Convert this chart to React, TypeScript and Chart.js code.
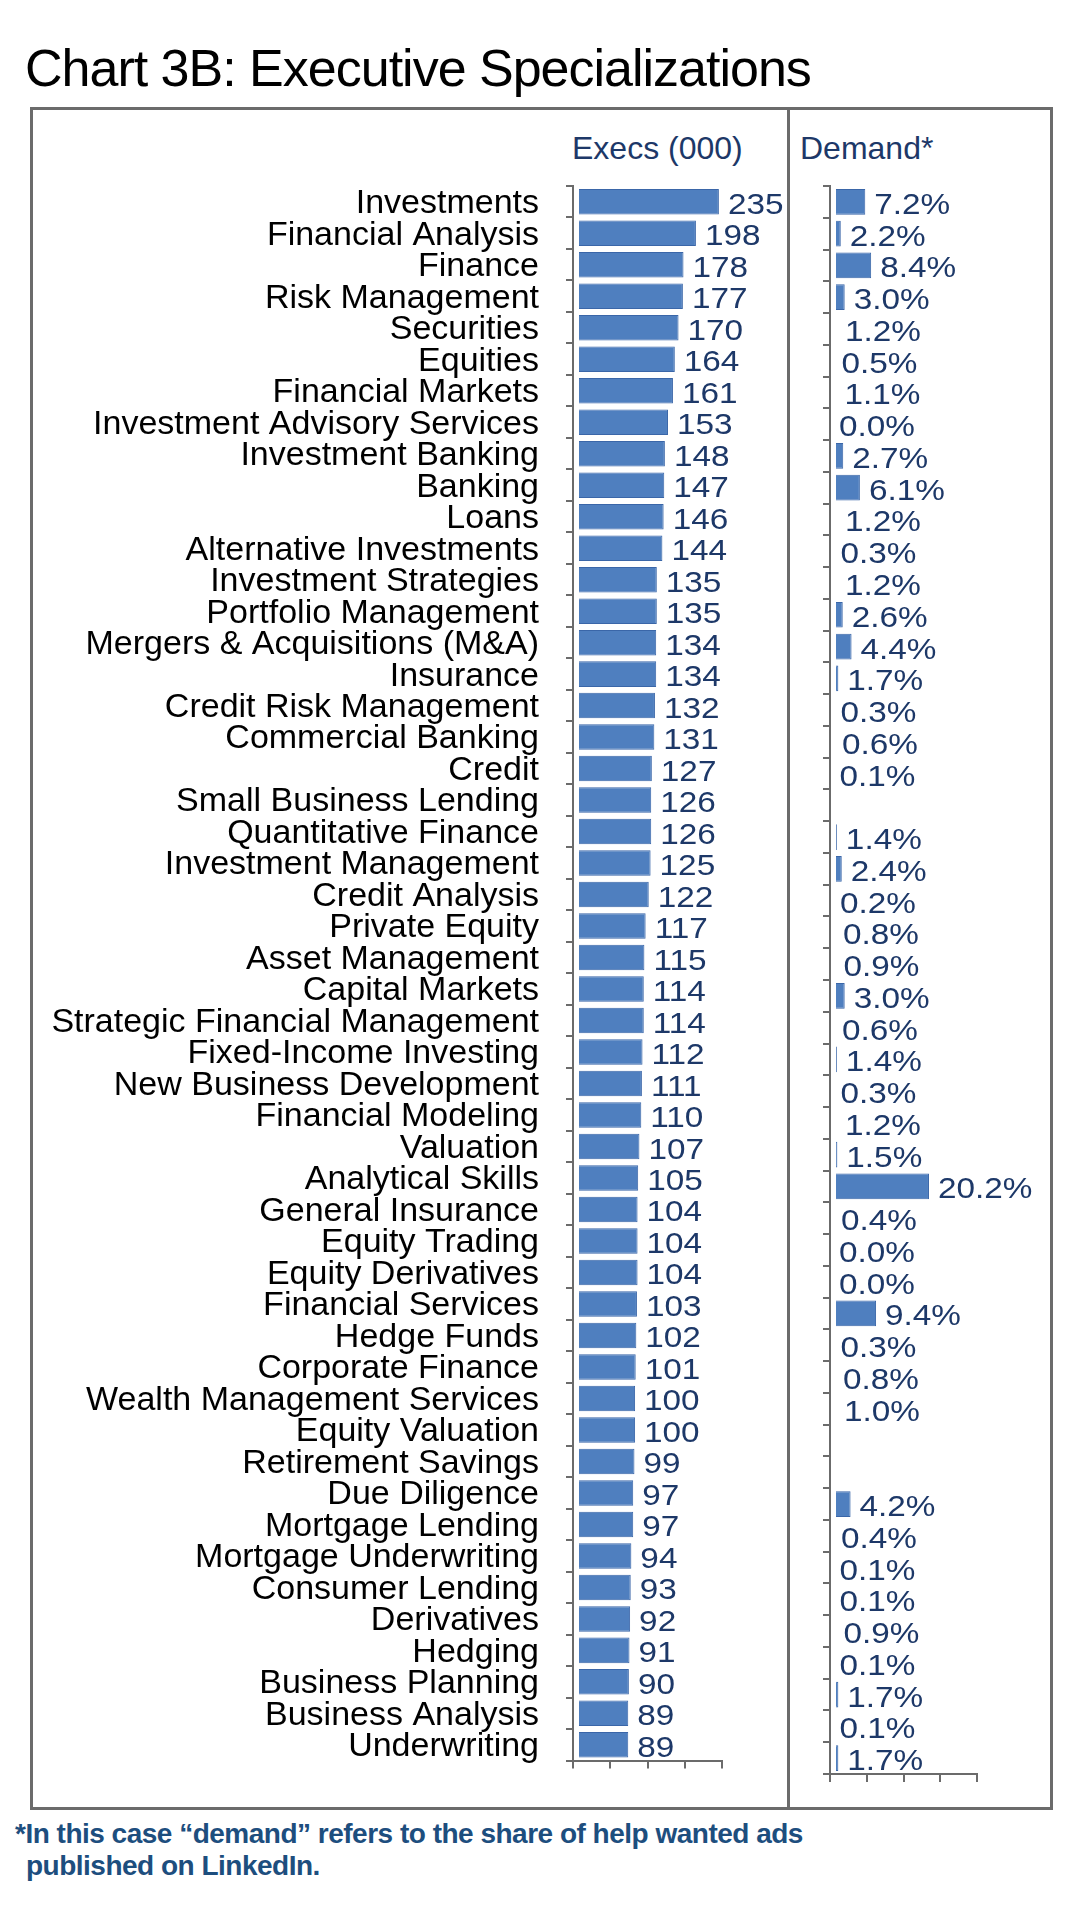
import React, { useEffect, useRef } from "react";
import { Chart, registerables } from "chart.js";

Chart.register(...registerables);

// ---------- data ----------
const categories: string[] = [
  "Investments",
  "Financial Analysis",
  "Finance",
  "Risk Management",
  "Securities",
  "Equities",
  "Financial Markets",
  "Investment Advisory Services",
  "Investment Banking",
  "Banking",
  "Loans",
  "Alternative Investments",
  "Investment Strategies",
  "Portfolio Management",
  "Mergers & Acquisitions (M&A)",
  "Insurance",
  "Credit Risk Management",
  "Commercial Banking",
  "Credit",
  "Small Business Lending",
  "Quantitative Finance",
  "Investment Management",
  "Credit Analysis",
  "Private Equity",
  "Asset Management",
  "Capital Markets",
  "Strategic Financial Management",
  "Fixed-Income Investing",
  "New Business Development",
  "Financial Modeling",
  "Valuation",
  "Analytical Skills",
  "General Insurance",
  "Equity Trading",
  "Equity Derivatives",
  "Financial Services",
  "Hedge Funds",
  "Corporate Finance",
  "Wealth Management Services",
  "Equity Valuation",
  "Retirement Savings",
  "Due Diligence",
  "Mortgage Lending",
  "Mortgage Underwriting",
  "Consumer Lending",
  "Derivatives",
  "Hedging",
  "Business Planning",
  "Business Analysis",
  "Underwriting",
];

const execs: number[] = [
  235, 198, 178, 177, 170, 164, 161, 153, 148, 147,
  146, 144, 135, 135, 134, 134, 132, 131, 127, 126,
  126, 125, 122, 117, 115, 114, 114, 112, 111, 110,
  107, 105, 104, 104, 104, 103, 102, 101, 100, 100,
  99, 97, 97, 94, 93, 92, 91, 90, 89, 89,
];

const demand: (number | null)[] = [
  7.2, 2.2, 8.4, 3.0, 1.2, 0.5, 1.1, 0.0, 2.7, 6.1,
  1.2, 0.3, 1.2, 2.6, 4.4, 1.7, 0.3, 0.6, 0.1, null,
  1.4, 2.4, 0.2, 0.8, 0.9, 3.0, 0.6, 1.4, 0.3, 1.2,
  1.5, 20.2, 0.4, 0.0, 0.0, 9.4, 0.3, 0.8, 1.0, null,
  null, 4.2, 0.4, 0.1, 0.1, 0.9, 0.1, 1.7, 0.1, 1.7,
];

const execAxis = { min: 0, max: 240, step: 60 };
const demandAxis = { min: 0, max: 30, step: 7.5 };

const titleText = "Chart 3B: Executive Specializations";
const execHeader = "Execs (000)";
const demandHeader = "Demand*";
const footLine1 = "*In this case \u201Cdemand\u201D refers to the share of help wanted ads";
const footLine2 = "published on LinkedIn.";

// ---------- styles ----------
const FONT = "'Liberation Sans', Arial, Helvetica, sans-serif";
const NAVY = "#1d3868";
const FOOT = "#1d4e7e";
const AXIS = "#6b6b6b";
const BAR = "#4f7fbf";
const BAR_BORDER = "#3a66a8";

function labelPlugin(format: (v: number) => string) {
  return {
    id: "valueLabels",
    afterDatasetsDraw(chart: any) {
      const { ctx, chartArea } = chart;
      ctx.save();
      // small white gap between axis line and bars
      ctx.fillStyle = "#ffffff";
      ctx.fillRect(chartArea.left + 1, chartArea.top, 5, chartArea.bottom - chartArea.top - 1);
      const meta = chart.getDatasetMeta(0);
      const data = chart.data.datasets[0].data as (number | null)[];
      ctx.fillStyle = NAVY;
      ctx.font = `30px ${FONT}`;
      ctx.textBaseline = "alphabetic";
      ctx.textAlign = "left";
      meta.data.forEach((el: any, i: number) => {
        const v = data[i];
        if (v === null || v === undefined) return;
        ctx.save();
        ctx.translate(el.x + 9, el.y + 12);
        ctx.scale(1.11, 1);
        ctx.fillText(format(v), 0, 0);
        ctx.restore();
      });
      ctx.restore();
    },
  };
}

function makeConfig(
  values: (number | null)[],
  axis: { min: number; max: number; step: number },
  showLabels: boolean,
  yWidth: number,
  padRight: number,
  format: (v: number) => string
): any {
  return {
    type: "bar",
    data: {
      labels: categories,
      datasets: [
        {
          data: values,
          backgroundColor: BAR,
          borderColor: BAR_BORDER,
          borderWidth: 1,
          barPercentage: 0.81,
          categoryPercentage: 1,
        },
      ],
    },
    options: {
      indexAxis: "y",
      animation: false,
      responsive: false,
      maintainAspectRatio: false,
      events: [],
      layout: { padding: { top: 76, right: padRight, bottom: 0, left: 0 } },
      plugins: {
        legend: { display: false },
        tooltip: { enabled: false },
        title: { display: false },
      },
      scales: {
        x: {
          type: "linear",
          min: axis.min,
          max: axis.max,
          ticks: { stepSize: axis.step, display: false },
          grid: {
            drawOnChartArea: false,
            drawTicks: true,
            tickLength: 8,
            color: AXIS,
            lineWidth: 2,
          },
          border: { display: true, color: AXIS, width: 2, z: 1 },
          afterFit: (s: any) => {
            s.height = 34;
          },
        },
        y: {
          type: "category",
          ticks: {
            display: showLabels,
            autoSkip: false,
            color: "#000000",
            font: { family: FONT, size: 34 },
            padding: 27,
            labelOffset: 2,
          },
          grid: {
            offset: true,
            drawOnChartArea: false,
            drawTicks: true,
            tickLength: 7,
            color: AXIS,
            lineWidth: 2,
          },
          border: { display: true, color: AXIS, width: 2, z: 1 },
          afterFit: (s: any) => {
            s.width = yWidth;
          },
        },
      },
    },
    plugins: [labelPlugin(format)],
  };
}

export default function App() {
  const c1 = useRef<HTMLCanvasElement>(null);
  const c2 = useRef<HTMLCanvasElement>(null);

  useEffect(() => {
    const ch1 = new Chart(
      c1.current as HTMLCanvasElement,
      makeConfig(execs, execAxis, true, 540, 63, (v) => String(v))
    );
    const ch2 = new Chart(
      c2.current as HTMLCanvasElement,
      makeConfig(demand, demandAxis, false, 40, 73, (v) => v.toFixed(1) + "%")
    );
    return () => {
      ch1.destroy();
      ch2.destroy();
    };
  }, []);

  return (
    <div
      style={{
        position: "absolute",
        left: 0,
        top: 0,
        width: 1080,
        height: 1912,
        background: "#ffffff",
        fontFamily: FONT,
        overflow: "hidden",
      }}
    >
      <div
        style={{
          position: "absolute",
          left: 25,
          top: 42,
          fontSize: 52,
          lineHeight: "52px",
          letterSpacing: "-1px",
          color: "#000",
          whiteSpace: "nowrap",
        }}
      >
        {titleText}
      </div>

      {/* frame */}
      <div
        style={{
          position: "absolute",
          left: 30,
          top: 107,
          width: 1023,
          height: 1703,
          boxSizing: "border-box",
          border: `3px solid ${AXIS}`,
        }}
      />
      <div
        style={{
          position: "absolute",
          left: 787,
          top: 107,
          width: 3,
          height: 1703,
          background: AXIS,
        }}
      />

      <div
        style={{
          position: "absolute",
          left: 572,
          top: 132,
          fontSize: 32,
          lineHeight: "32px",
          color: NAVY,
          whiteSpace: "nowrap",
        }}
      >
        {execHeader}
      </div>
      <div
        style={{
          position: "absolute",
          left: 800,
          top: 132,
          fontSize: 32,
          lineHeight: "32px",
          color: NAVY,
          whiteSpace: "nowrap",
        }}
      >
        {demandHeader}
      </div>

      <canvas
        ref={c1}
        width={752}
        height={1698}
        style={{ position: "absolute", left: 33, top: 110, width: 752, height: 1698 }}
      />
      <canvas
        ref={c2}
        width={260}
        height={1698}
        style={{ position: "absolute", left: 790, top: 110, width: 260, height: 1698 }}
      />

      <div
        style={{
          position: "absolute",
          left: 15,
          top: 1818,
          fontSize: 28,
          lineHeight: "32px",
          fontWeight: "bold",
          letterSpacing: "-0.5px",
          color: FOOT,
          whiteSpace: "nowrap",
        }}
      >
        {footLine1}
      </div>
      <div
        style={{
          position: "absolute",
          left: 26,
          top: 1850,
          fontSize: 28,
          lineHeight: "32px",
          fontWeight: "bold",
          letterSpacing: "-0.5px",
          color: FOOT,
          whiteSpace: "nowrap",
        }}
      >
        {footLine2}
      </div>
    </div>
  );
}
